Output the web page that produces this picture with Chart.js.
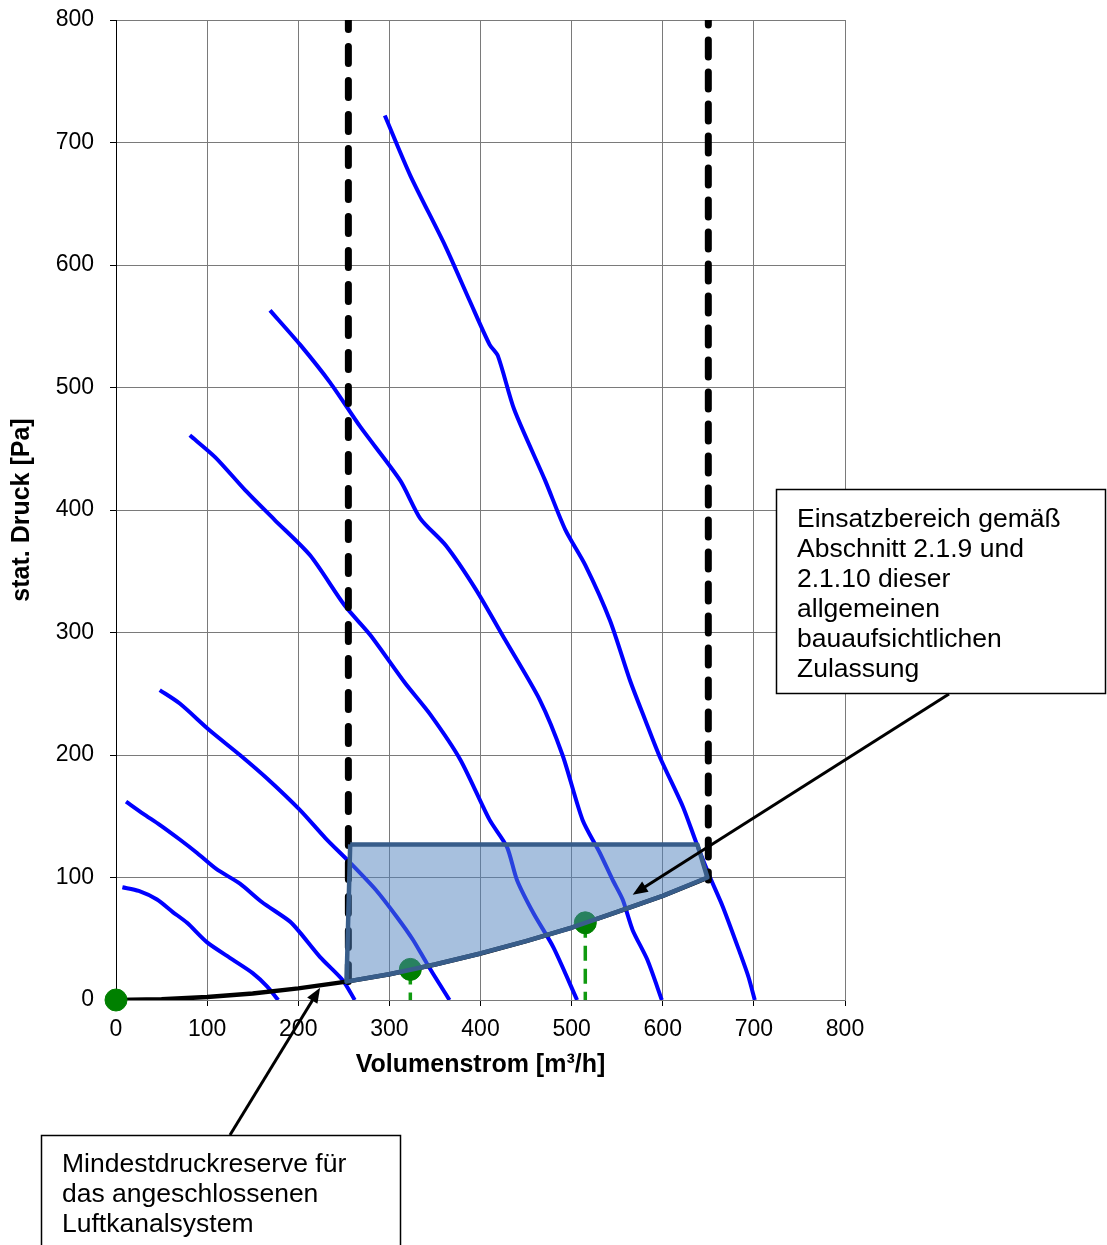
<!DOCTYPE html>
<html>
<head>
<meta charset="utf-8">
<script src="https://cdn.jsdelivr.net/npm/chart.js@4.4.1/dist/chart.umd.min.js"></script>
<style>
  body { margin: 0; background: #fff; }
  canvas { display: block; }
</style>
</head>
<body>
<canvas id="chart" width="1107" height="1245"></canvas>
<script>
// Ventilatorkennlinien (Volumenstrom m3/h, Druck Pa)
const curve1X = [7, 25, 45, 62, 78, 100, 128, 150, 166, 178];
const curve1Y = [92, 89, 82, 72, 63, 47, 33, 22, 11, 0];

const curve2X = [11, 30, 48, 70, 89, 110, 136, 160, 191, 202, 224, 249, 262];
const curve2Y = [162, 152, 143, 131, 120, 107, 95, 80, 64, 55, 35, 16, 0];

const curve3X = [48, 70, 103, 136, 167, 202, 230, 257, 285, 308, 326, 341, 355, 366];
const curve3Y = [253, 242, 220, 200, 180, 155, 132, 112, 90, 68, 49, 30, 13, 0];

const curve4X = [81, 109, 142, 174, 213, 251, 279, 317, 345, 378, 410, 429, 440, 458, 480, 506];
const curve4Y = [461, 443, 416, 392, 363, 322, 298, 259, 233, 196, 147, 125, 98, 71, 43, 0];

const curve5X = [169, 202, 235, 268, 312, 334, 362, 395, 427, 465, 490, 512, 531, 545, 556, 567, 583, 599];
const curve5Y = [563, 535, 504, 468, 424, 393, 371, 335, 294, 245, 200, 147, 120, 98, 82, 57, 33, 0];

const curve6X = [295, 323, 361, 388, 410, 419, 437, 471, 493, 515, 542, 564, 580, 597, 622, 637, 652, 666, 685, 694, 701];
const curve6Y = [722, 673, 616, 571, 535, 526, 482, 424, 384, 355, 310, 261, 230, 198, 158, 128, 100, 76, 38, 19, 0];

// Anlagenkennlinie (Luftkanalsystem)
const systemX = [0, 50, 100, 150, 200, 253, 300, 350, 400, 450, 500, 550, 600, 650];
const systemY = [0, 0.6, 2.4, 5.3, 9.5, 15, 21, 29, 38, 48, 59, 72, 85, 100];

// Einsatzbereich (Polygon)
const areaX = [257, 638, 649, 600, 550, 500, 450, 400, 350, 300, 253, 257];
const areaY = [127, 127, 100, 85, 72, 59, 48, 38, 29, 21, 15, 127];

// Grenzen (gestrichelt)
const limitLeftX = [255, 255];
const limitLeftY = [800, 14];
const limitRightX = [650, 650];
const limitRightY = [800, 98];

// Betriebspunkte
const opX = [0, 323, 515];
const opY = [0, 25, 63];

const xTickValues = [0, 100, 200, 300, 400, 500, 600, 700, 800];
const yTickValues = [0, 100, 200, 300, 400, 500, 600, 700, 800];

const box1Lines = ["Einsatzbereich gemäß", "Abschnitt 2.1.9 und", "2.1.10 dieser", "allgemeinen", "bauaufsichtlichen", "Zulassung"];
const box2Lines = ["Mindestdruckreserve für", "das angeschlossenen", "Luftkanalsystem"];
const arrow1Tip = [567, 86];
const arrow2Tip = [224, 10];

function pts(xs, ys) {
    return xs.map((x, i) => ({ x: x, y: ys[i] }));
}

function blueCurve(xs, ys) {
    return {
        type: 'line',
        data: pts(xs, ys),
        borderColor: '#0000ff',
        borderWidth: 4,
        pointRadius: 0,
        tension: 0.25,
        fill: false,
        order: 6
    };
}

function drawBox(ctx, x, y, w, h, lines, tx, ty) {
    ctx.fillStyle = '#fff';
    ctx.fillRect(x, y, w, h);
    ctx.strokeStyle = '#000';
    ctx.lineWidth = 1.5;
    ctx.strokeRect(x, y, w, h);
    ctx.fillStyle = '#000';
    ctx.font = '26.5px "Liberation Sans", Arial, sans-serif';
    ctx.textAlign = 'left';
    ctx.textBaseline = 'alphabetic';
    lines.forEach((t, i) => ctx.fillText(t, tx, ty + i * 30));
}

function drawArrow(ctx, x0, y0, x1, y1) {
    const a = Math.atan2(y1 - y0, x1 - x0);
    const len = 15, half = 6;
    ctx.strokeStyle = '#000';
    ctx.lineWidth = 3;
    ctx.beginPath();
    ctx.moveTo(x0, y0);
    ctx.lineTo(x1 - Math.cos(a) * len * 0.8, y1 - Math.sin(a) * len * 0.8);
    ctx.stroke();
    ctx.fillStyle = '#000';
    ctx.beginPath();
    ctx.moveTo(x1, y1);
    ctx.lineTo(x1 - Math.cos(a) * len - Math.sin(a) * half, y1 - Math.sin(a) * len + Math.cos(a) * half);
    ctx.lineTo(x1 - Math.cos(a) * len + Math.sin(a) * half, y1 - Math.sin(a) * len - Math.cos(a) * half);
    ctx.closePath();
    ctx.fill();
}

const annotations = {
    id: 'annotations',
    afterDraw(chart) {
        const ctx = chart.ctx;
        const sx = chart.scales.x, sy = chart.scales.y;
        ctx.save();
        drawBox(ctx, 776.5, 489.5, 329, 204, box1Lines, 797, 527);
        drawBox(ctx, 41.5, 1135.5, 359, 130, box2Lines, 62, 1172);
        drawArrow(ctx, 949, 694, sx.getPixelForValue(arrow1Tip[0]), sy.getPixelForValue(arrow1Tip[1]));
        drawArrow(ctx, 230, 1135, sx.getPixelForValue(arrow2Tip[0]), sy.getPixelForValue(arrow2Tip[1]));
        ctx.restore();
    }
};

const tickFont = { family: '"Liberation Sans", Arial, sans-serif', size: 23 };
const titleFont = { family: '"Liberation Sans", Arial, sans-serif', size: 25, weight: 'bold' };

const ctx = document.getElementById("chart").getContext("2d");
const chart = new Chart(ctx, {
    type: "scatter",
    data: {
        datasets: [
            // Einsatzbereich oben drauf, halbtransparent
            {
                type: 'line',
                data: pts(areaX, areaY),
                borderColor: '#385d8a',
                borderWidth: 4.5,
                borderJoinStyle: 'round',
                backgroundColor: 'rgba(79,129,189,0.5)',
                fill: 'shape',
                pointRadius: 0,
                tension: 0,
                order: 1
            },
            // Betriebspunkte
            {
                data: pts(opX, opY),
                backgroundColor: '#008000',
                borderColor: '#008000',
                pointRadius: 11,
                showLine: false,
                clip: false,
                order: 2
            },
            {
                type: 'line',
                data: pts([opX[1], opX[1]], [opY[1], 0]),
                borderColor: '#109a10',
                borderWidth: 3.5,
                borderDash: [15, 8],
                pointRadius: 0,
                order: 2
            },
            {
                type: 'line',
                data: pts([opX[2], opX[2]], [opY[2], 0]),
                borderColor: '#109a10',
                borderWidth: 3.5,
                borderDash: [15, 8],
                pointRadius: 0,
                order: 2
            },
            // Anlagenkennlinie
            {
                type: 'line',
                data: pts(systemX, systemY),
                borderColor: '#000',
                borderWidth: 4.5,
                pointRadius: 0,
                tension: 0,
                order: 3
            },
            // Grenzen
            {
                type: 'line',
                data: pts(limitLeftX, limitLeftY),
                borderColor: '#000',
                borderWidth: 7,
                borderDash: [17, 17],
                borderDashOffset: 7.5,
                borderCapStyle: 'round',
                pointRadius: 0,
                clip: 0,
                order: 4
            },
            {
                type: 'line',
                data: pts(limitRightX, limitRightY),
                borderColor: '#000',
                borderWidth: 7,
                borderDash: [17, 15],
                borderDashOffset: 12,
                borderCapStyle: 'round',
                pointRadius: 0,
                clip: 0,
                order: 4
            },
            blueCurve(curve1X, curve1Y),
            blueCurve(curve2X, curve2Y),
            blueCurve(curve3X, curve3Y),
            blueCurve(curve4X, curve4Y),
            blueCurve(curve5X, curve5Y),
            blueCurve(curve6X, curve6Y)
        ]
    },
    options: {
        responsive: false,
        animation: false,
        events: [],
        layout: { autoPadding: false, padding: { top: 20, right: 262, left: 0, bottom: 0 } },
        scales: {
            x: {
                type: 'linear',
                min: 0,
                max: 800,
                afterBuildTicks: (s) => { s.ticks = xTickValues.map(v => ({ value: v })); },
                afterFit: (s) => { s.height = 245; s.paddingLeft = 0; s.paddingRight = 0; },
                ticks: { color: '#000', font: tickFont, padding: 10, maxRotation: 0 },
                grid: { color: '#7a7a7a', tickLength: 6, tickColor: '#000' },
                border: { color: '#7a7a7a' },
                title: {
                    display: true,
                    text: 'Volumenstrom [m³/h]',
                    color: '#000',
                    font: titleFont,
                    padding: { top: 0, bottom: 165 }
                }
            },
            y: {
                type: 'linear',
                min: 0,
                max: 800,
                afterBuildTicks: (s) => { s.ticks = yTickValues.map(v => ({ value: v })); },
                afterFit: (s) => { s.width = 116; s.paddingTop = 0; s.paddingBottom = 0; },
                ticks: { color: '#000', font: tickFont, padding: 16 },
                grid: { color: '#7a7a7a', tickLength: 6, tickColor: '#000' },
                border: { color: '#000' },
                title: {
                    display: true,
                    text: 'stat. Druck [Pa]',
                    color: '#000',
                    font: titleFont,
                    padding: { top: 7, bottom: 0 }
                }
            }
        },
        plugins: {
            legend: { display: false },
            tooltip: { enabled: false }
        }
    },
    plugins: [annotations]
});
</script>
</body>
</html>
